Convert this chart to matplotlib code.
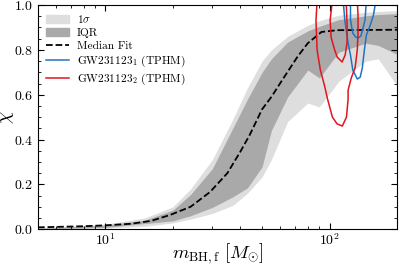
import matplotlib
matplotlib.use("Agg")
import matplotlib.pyplot as plt
from matplotlib.patches import Patch
from matplotlib.lines import Line2D
from matplotlib.ticker import AutoMinorLocator
import numpy as np

plt.rcParams['font.family'] = 'serif'
plt.rcParams['font.serif'] = ['cmr10']
plt.rcParams['mathtext.fontset'] = 'cm'
plt.rcParams['axes.formatter.use_mathtext'] = True

# band grid (final mass) and band edges
mass = [5, 10, 15, 20, 24, 30, 37, 43, 50, 55, 65, 80, 90, 110, 145, 165, 200]
sig_hi = [0.005, 0.022, 0.05, 0.10, 0.18, 0.31, 0.49, 0.63, 0.75, 0.80, 0.86, 0.91, 0.93, 0.955, 0.968, 0.972, 0.975]
iqr_hi = [0.003, 0.018, 0.04, 0.085, 0.155, 0.27, 0.45, 0.58, 0.70, 0.76, 0.835, 0.885, 0.905, 0.935, 0.952, 0.958, 0.962]
iqr_lo = [0.001, 0.008, 0.025, 0.037, 0.06, 0.097, 0.144, 0.184, 0.278, 0.44, 0.59, 0.71, 0.675, 0.79, 0.83, 0.82, 0.78]
sig_lo = [0.0, 0.005, 0.013, 0.028, 0.045, 0.07, 0.106, 0.16, 0.233, 0.31, 0.48, 0.563, 0.545, 0.66, 0.75, 0.76, 0.64]

# median fit
med_m = [5, 8, 10, 13, 16, 19.4, 24, 29.3, 35, 40, 44, 50, 55, 61, 72, 80, 92, 108, 200]
med_chi = [0.008, 0.013, 0.017, 0.024, 0.037, 0.063, 0.10, 0.166, 0.25, 0.346, 0.42, 0.535, 0.59, 0.66, 0.77, 0.83, 0.88, 0.888, 0.89]

# GW231123 contours (TPHM)
blue_out_m = [115, 117, 121, 124, 127, 133, 137, 140, 143, 146, 152, 157, 161]
blue_out_chi = [1.02, 0.933, 0.83, 0.777, 0.71, 0.67, 0.678, 0.719, 0.799, 0.866, 0.911, 0.955, 1.02]
blue_in_m = [124, 124, 127, 131, 134, 138, 141, 144, 146]
blue_in_chi = [1.02, 0.933, 0.875, 0.857, 0.853, 0.862, 0.897, 0.933, 1.02]
red_out_m = [88, 87, 88, 91, 95, 98, 103, 108, 114, 119, 121, 121, 125, 130, 133, 134, 134, 133]
red_out_chi = [1.02, 0.93, 0.80, 0.71, 0.64, 0.58, 0.50, 0.47, 0.46, 0.50, 0.58, 0.62, 0.675, 0.72, 0.80, 0.875, 0.955, 1.02]
red_in_m = [103, 100.6, 101.6, 104.8, 108.1, 113.8, 117.4, 119.8, 119.8, 118.6]
red_in_chi = [1.02, 0.933, 0.857, 0.808, 0.768, 0.746, 0.777, 0.835, 0.911, 1.02]

c_light = '#dedede'
c_dark = '#a9a9a9'
c_blue = '#1f74c4'
c_red = '#e0161e'

fig = plt.figure(figsize=(4.0, 2.68), dpi=100)
ax = fig.add_axes([0.095, 0.145, 0.8975, 0.836])

ax.fill_between(mass, sig_lo, sig_hi, color=c_light, lw=0)
ax.fill_between(mass, iqr_lo, iqr_hi, color=c_dark, lw=0)
ax.plot(med_m, med_chi, color='k', ls='--', lw=1.3)

ax.plot(blue_out_m, blue_out_chi, color=c_blue, lw=1.1)
ax.plot(blue_in_m, blue_in_chi, color=c_blue, lw=1.1)
ax.plot(red_out_m, red_out_chi, color=c_red, lw=1.1)
ax.plot(red_in_m, red_in_chi, color=c_red, lw=1.1)

ax.set_xscale('log')
ax.set_xlim(5, 200)
ax.set_ylim(0, 1)
ax.yaxis.set_minor_locator(AutoMinorLocator(4))
ax.tick_params(which='both', direction='in', top=True, right=True, labelsize=10)
ax.tick_params(axis='x', pad=2)
ax.tick_params(which='major', length=4.5)
ax.tick_params(which='minor', length=2.2)

ax.set_xlabel(r'$m_{\rm BH,f}\ [M_{\odot}]$', fontsize=13.5)
ax.set_ylabel(r'$\chi$', fontsize=14)
ax.xaxis.set_label_coords(0.5, -0.055)
ax.yaxis.set_label_coords(-0.06, 0.5)

handles = [
    Patch(color=c_light, label=r'1$\sigma$'),
    Patch(color=c_dark, label='IQR'),
    Line2D([], [], color='k', ls='--', lw=1.3, label='Median Fit'),
    Line2D([], [], color=c_blue, lw=1.1, label=r'GW231123$_1$ (TPHM)'),
    Line2D([], [], color=c_red, lw=1.1, label=r'GW231123$_2$ (TPHM)'),
]
ax.legend(handles=handles, loc='upper left', frameon=False, fontsize=8.2,
          handlelength=2.0, handletextpad=0.7, labelspacing=0.25,
          borderaxespad=0.3)

fig.savefig('out.png', dpi=100)
